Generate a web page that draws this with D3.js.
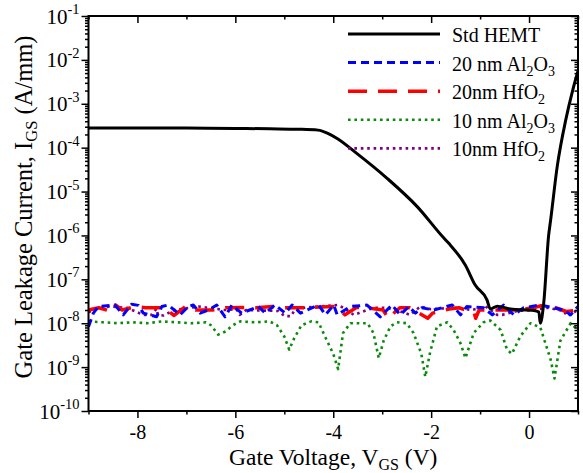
<!DOCTYPE html>
<html>
<head>
<meta charset="utf-8">
<script src="https://cdn.jsdelivr.net/npm/d3@7"></script>
<style>
body { margin: 0; background: #fff; }
svg { display: block; font-family: "Liberation Serif", "Times New Roman", serif; }
</style>
</head>
<body>
<svg id="chart" width="583" height="473"></svg>
<script>

// Std HEMT
var stdV = [-9, -8, -7, -6, -5.3, -4.7, -4.31, -4.1, -3.92, -3.52, -2.9, -2.29, -1.74, -1.64, -1.3, -1.1, -0.86, -0.79, -0.65, -0.38, 0.1, 0.2, 0.23, 0.3, 0.4, 0.44, 0.575, 0.75, 0.89, 1.0];
var stdI = [2.82e-4, 2.82e-4, 2.79e-4, 2.75e-4, 2.69e-4, 2.63e-4, 2.51e-4, 2.09e-4, 1.62e-4, 7.4e-5, 2.0e-5, 4.6e-6, 8.7e-7, 6.6e-7, 2.1e-7, 7.4e-8, 3.4e-8, 2.1e-8, 2.45e-8, 2.1e-8, 1.95e-8, 1.8e-8, 1.0e-8, 2.9e-8, 1.0e-6, 2.2e-6, 3.7e-5, 4.3e-4, 2.0e-3, 5.6e-3];

// 20 nm Al2O3
var al20V = [-9.0, -8.9, -8.8, -8.46, -8.29, -8.12, -7.98, -7.88, -7.61, -7.5, -7.37, -7.13, -6.96, -6.86, -6.72, -6.55, -6.38, -6.21, -6.07, -5.87, -5.53, -5.39, -5.19, -4.98, -4.84, -4.67, -4.3, -4.16, -3.99, -3.92, -3.65, -3.31, -3.04, -2.8, -2.63, -2.46, -2.32, -2.19, -1.95, -1.57, -1.4, -1.27, -0.93, -0.75, -0.52, -0.31, -0.11, 0.23, 0.71, 0.85, 1.0];
var al20I = [8.3e-9, 1.7e-8, 2.4e-8, 2.6e-8, 1.55e-8, 2.7e-8, 2.55e-8, 1.7e-8, 1.4e-8, 2.4e-8, 2.6e-8, 1.55e-8, 2.4e-8, 2.6e-8, 1.7e-8, 2.0e-8, 2.6e-8, 1.4e-8, 2.6e-8, 1.7e-8, 2.4e-8, 1.7e-8, 2.6e-8, 1.7e-8, 2.6e-8, 1.7e-8, 2.6e-8, 1.55e-8, 2.6e-8, 1.55e-8, 2.4e-8, 2.6e-8, 1.4e-8, 2.6e-8, 1.55e-8, 2.4e-8, 1.7e-8, 2.25e-8, 2.0e-8, 2.6e-8, 1.55e-8, 2.4e-8, 2.25e-8, 1.55e-8, 2.6e-8, 1.55e-8, 2.25e-8, 2.6e-8, 2.0e-8, 1.55e-8, 2.4e-8];

// 20nm HfO2
var hf20V = [-9.0, -8.79, -8.52, -8.45, -8.31, -8.04, -7.84, -7.46, -7.25, -7.02, -6.81, -6.47, -6.2, -5.78, -5.58, -5.24, -5.03, -4.62, -4.4, -4.0, -3.86, -3.76, -3.52, -3.32, -2.98, -2.88, -2.64, -2.44, -2.07, -1.97, -1.63, -1.43, -1.12, -1.09, -1.02, -0.2, 0.08, 0.25, 0.52, 0.76, 1.0];
var hf20I = [2.0e-8, 2.25e-8, 1.85e-8, 2.6e-8, 2.0e-8, 2.4e-8, 2.25e-8, 2.25e-8, 1.5e-8, 2.4e-8, 2.0e-8, 2.0e-8, 2.25e-8, 2.3e-8, 2.25e-8, 2.4e-8, 2.25e-8, 2.25e-8, 2.3e-8, 2.4e-8, 2.0e-8, 1.55e-8, 2.3e-8, 2.25e-8, 2.0e-8, 1.3e-8, 2.25e-8, 2.25e-8, 1.3e-8, 1.7e-8, 2.1e-8, 2.25e-8, 1.7e-8, 1.3e-8, 2.0e-8, 2.0e-8, 2.25e-8, 2.5e-8, 2.3e-8, 1.85e-8, 2.0e-8];

// 10 nm Al2O3
var al10V = [-9.0, -8.7, -8.4, -8.1, -7.8, -7.5, -7.2, -6.9, -6.6, -6.5, -6.35, -6.2, -6.05, -5.9, -5.6, -5.3, -5.15, -5.0, -4.9, -4.8, -4.65, -4.45, -4.3, -4.15, -4.0, -3.9, -3.8, -3.65, -3.3, -3.18, -3.07, -2.97, -2.83, -2.7, -2.5, -2.36, -2.2, -2.12, -2.02, -1.88, -1.67, -1.54, -1.4, -1.3, -1.13, -0.93, -0.79, -0.58, -0.45, -0.35, -0.18, 0.03, 0.23, 0.44, 0.52, 0.64, 0.85, 1.0];
var al10I = [1.1e-8, 1.05e-8, 1.0e-8, 1.05e-8, 1.0e-8, 1.1e-8, 1.05e-8, 1.0e-8, 1.05e-8, 9e-9, 5.5e-9, 6.5e-9, 9e-9, 1.1e-8, 1.05e-8, 1.1e-8, 9e-9, 5e-9, 2.5e-9, 4.5e-9, 9e-9, 1.1e-8, 1.05e-8, 4.5e-9, 2e-9, 9e-10, 6e-9, 1e-8, 1e-8, 6e-9, 1.6e-9, 4e-9, 8.5e-9, 1.05e-8, 1e-8, 6e-9, 2e-9, 6e-10, 2.2e-9, 8.5e-9, 1.05e-8, 7e-9, 3.5e-9, 1.6e-9, 6e-9, 1.05e-8, 1.15e-8, 7e-9, 2.5e-9, 2e-9, 5e-9, 1e-8, 8e-9, 1.5e-9, 5.5e-10, 4e-9, 1e-8, 7e-9];

// 10nm HfO2
var hf10V = [-9.0, -8.7, -8.57, -8.22, -7.88, -7.71, -7.61, -7.58, -7.47, -7.25, -6.75, -6.22, -5.98, -5.91, -5.78, -5.13, -4.99, -4.86, -4.79, -4.6, -4.32, -3.92, -3.79, -3.58, -3.18, -2.98, -2.77, -2.43, -2.22, -2.02, -1.48, -1.17, -0.89, -0.65, -0.55, -0.24, 0.1, 0.37, 0.71, 0.78, 1.0];
var hf10I = [1.8e-8, 2.3e-8, 2.4e-8, 2.25e-8, 1.55e-8, 1.55e-8, 2.15e-8, 1.55e-8, 1.5e-8, 2.0e-8, 2.4e-8, 2.0e-8, 2.1e-8, 1.55e-8, 2.0e-8, 1.9e-8, 1.45e-8, 1.45e-8, 2.0e-8, 2.25e-8, 2.4e-8, 2.6e-8, 2.25e-8, 1.55e-8, 2.25e-8, 2.25e-8, 2.1e-8, 1.55e-8, 2.4e-8, 2.1e-8, 2.25e-8, 2.0e-8, 2.4e-8, 1.55e-8, 1.55e-8, 1.9e-8, 2.0e-8, 2.25e-8, 1.9e-8, 1.45e-8, 2.0e-8];

var xMajor = [-8, -6, -4, -2, 0];
var xMinor = [-9, -7, -5, -3, -1, 1];
var yExponents = [-10, -9, -8, -7, -6, -5, -4, -3, -2, -1];

var series = [
    {name: "Std HEMT", sub: null, v: stdV, i: stdI, color: "#000000", width: 3, dash: null, smooth: true},
    {name: "20 nm Al", sub: ["2", "O", "3"], v: al20V, i: al20I, color: "#0000ff", width: 3, dash: "8,5", smooth: false},
    {name: "20nm HfO", sub: ["2"], v: hf20V, i: hf20I, color: "#ff0000", width: 3.5, dash: "19,11", smooth: false},
    {name: "10 nm Al", sub: ["2", "O", "3"], v: al10V, i: al10I, color: "#0a8a0a", width: 2.6, dash: "2.6,3.8", smooth: false},
    {name: "10nm HfO", sub: ["2"], v: hf10V, i: hf10I, color: "#800080", width: 2.6, dash: "2.6,3.8", smooth: false}
];

var W = 583, H = 473;
var margin = {top: 16, right: 5, bottom: 62, left: 88.5};

var svg = d3.select("#chart");

var x = d3.scaleLinear().domain([-9, 1]).range([margin.left, W - margin.right]);
var y = d3.scaleLog().domain([1e-10, 1e-1]).range([H - margin.bottom, margin.top]);

var yMajor = yExponents.map(function (e) { return Math.pow(10, e); });
var yMinor = [];
yExponents.slice(0, -1).forEach(function (e) {
    for (var m = 2; m <= 9; m++) yMinor.push(m * Math.pow(10, e));
});

svg.append("clipPath").attr("id", "plot-clip")
    .append("rect")
    .attr("x", margin.left).attr("y", margin.top)
    .attr("width", W - margin.right - margin.left)
    .attr("height", H - margin.bottom - margin.top);

// curves
var plot = svg.append("g").attr("clip-path", "url(#plot-clip)");
series.slice().reverse().forEach(function (s) {
    var pts = d3.zip(s.v, s.i);
    var line = d3.line()
        .x(function (d) { return x(d[0]); })
        .y(function (d) { return y(d[1]); })
        .curve(s.smooth ? d3.curveMonotoneX : d3.curveLinear);
    plot.append("path")
        .datum(pts)
        .attr("d", line)
        .attr("fill", "none")
        .attr("stroke", s.color)
        .attr("stroke-width", s.width)
        .attr("stroke-dasharray", s.dash)
        .attr("stroke-linejoin", "round");
});

// axes
function styleAxis(g) {
    g.select(".domain").remove();
    g.selectAll(".tick line").attr("stroke", "#000").attr("stroke-width", 1.5);
}

var bottomY = H - margin.bottom, rightX = W - margin.right;

svg.append("g").attr("transform", "translate(0," + bottomY + ")")
    .call(d3.axisBottom(x).tickValues(xMajor).tickSize(7).tickFormat(function (d) { return String(d); }))
    .call(styleAxis)
    .call(function (g) {
        g.selectAll("text").attr("font-size", 20).attr("font-family", "Liberation Serif")
            .attr("fill", "#000").attr("dy", "0.9em");
    });
svg.append("g").attr("transform", "translate(0," + bottomY + ")")
    .call(d3.axisBottom(x).tickValues(xMinor).tickSize(3.5).tickFormat(""))
    .call(styleAxis);

svg.append("g").attr("transform", "translate(0," + margin.top + ")")
    .call(d3.axisTop(x).tickValues(xMajor).tickSize(-7).tickFormat(""))
    .call(styleAxis);
svg.append("g").attr("transform", "translate(0," + margin.top + ")")
    .call(d3.axisTop(x).tickValues(xMinor).tickSize(-3.5).tickFormat(""))
    .call(styleAxis);

svg.append("g").attr("transform", "translate(" + margin.left + ",0)")
    .call(d3.axisLeft(y).tickValues(yMajor).tickSize(7).tickFormat(""))
    .call(styleAxis);
svg.append("g").attr("transform", "translate(" + margin.left + ",0)")
    .call(d3.axisLeft(y).tickValues(yMinor).tickSize(3.5).tickFormat(""))
    .call(styleAxis);

svg.append("g").attr("transform", "translate(" + rightX + ",0)")
    .call(d3.axisRight(y).tickValues(yMajor).tickSize(-7).tickFormat(""))
    .call(styleAxis);
svg.append("g").attr("transform", "translate(" + rightX + ",0)")
    .call(d3.axisRight(y).tickValues(yMinor).tickSize(-3.5).tickFormat(""))
    .call(styleAxis);

// y tick labels 10^n
var ylab = svg.append("g").attr("font-size", 21).attr("text-anchor", "end");
yExponents.forEach(function (e) {
    var t = ylab.append("text")
        .attr("x", margin.left - 9)
        .attr("y", y(Math.pow(10, e)) + 7.5);
    t.append("tspan").text("10");
    t.append("tspan").attr("font-size", 14.5).attr("dy", -9.5).text(String(e));
});

// frame
svg.append("rect")
    .attr("x", margin.left).attr("y", margin.top)
    .attr("width", rightX - margin.left)
    .attr("height", bottomY - margin.top)
    .attr("fill", "none").attr("stroke", "#000").attr("stroke-width", 2);

// axis titles
var xt = svg.append("text")
    .attr("x", (margin.left + rightX) / 2)
    .attr("y", 465)
    .attr("text-anchor", "middle")
    .attr("font-size", 23.5);
xt.append("tspan").text("Gate Voltage, V");
xt.append("tspan").attr("font-size", 16).attr("dy", 5).text("GS");
xt.append("tspan").attr("dy", -5).text(" (V)");

var yt = svg.append("text")
    .attr("transform", "translate(32,207) rotate(-90)")
    .attr("text-anchor", "middle")
    .attr("font-size", 24.5);
yt.append("tspan").text("Gate Leakage Current, I");
yt.append("tspan").attr("font-size", 16.5).attr("dy", 5).text("GS");
yt.append("tspan").attr("dy", -5).text(" (A/mm)");

// legend
var legend = svg.append("g");
series.forEach(function (s, k) {
    var ly = 34 + k * 28.6;
    legend.append("line")
        .attr("x1", 348).attr("x2", 440)
        .attr("y1", ly).attr("y2", ly)
        .attr("stroke", s.color)
        .attr("stroke-width", s.width)
        .attr("stroke-dasharray", s.dash);
    var t = legend.append("text")
        .attr("x", 452).attr("y", ly + 8)
        .attr("font-size", 20);
    t.append("tspan").text(s.name);
    if (s.sub) {
        s.sub.forEach(function (part, j) {
            var isSub = j % 2 === 0;
            t.append("tspan")
                .attr("font-size", isSub ? 14 : 20)
                .attr("dy", isSub ? 5 : -5)
                .text(part);
        });
    }
});

</script>
</body>
</html>
